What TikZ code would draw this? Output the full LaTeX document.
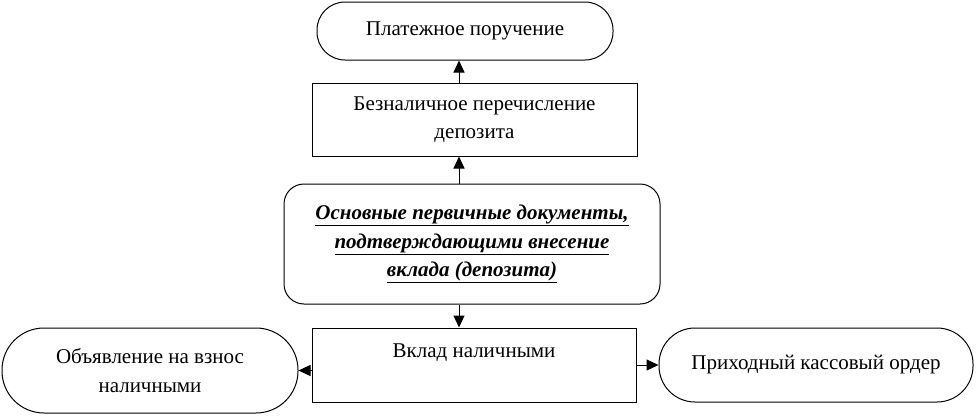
\documentclass[tikz,border=0pt]{standalone}
\usepackage{fontspec}
\setmainfont{Liberation Serif}
\usetikzlibrary{arrows.meta}
\tikzset{
  block/.style={draw,line width=1pt,align=center,inner sep=0pt,
    font=\fontsize{21}{28.5}\selectfont},
  pill/.style={block,rounded corners=#1},
  arr/.style={line width=1pt,-{Triangle[length=12pt,width=11pt]}}
}

\begin{document}
\begin{tikzpicture}[x=1pt,y=-1pt]
\useasboundingbox (0,0) rectangle (976,415);
% top: payment order and transfer
\node[pill=28pt,minimum width=296pt,minimum height=58pt] (plat) at (465,31) {Платежное поручение};
\node[block,minimum width=325pt,minimum height=73pt] (bezn) at (474.5,119.5) {Безналичное перечисление\\депозита};
% central block
\node[pill=20pt,minimum width=376pt,minimum height=120pt] (osn) at (472,244)
  {\bfseries\itshape\underline{Основные первичные документы,}\\
   \bfseries\itshape\underline{подтверждающими внесение}\\
   \bfseries\itshape\underline{вклада (депозита)}};
% bottom row
\node[block,minimum width=324pt,minimum height=74pt] (vklad) at (474,365) {Вклад наличными\\\mbox{}};
\node[pill=42pt,minimum width=296pt,minimum height=85pt] (obyav) at (150,370.5) {Объявление на взнос\\наличными};
\node[pill=36pt,minimum width=314pt,minimum height=74pt] (prikh) at (816,365) {Приходный кассовый ордер};
% arrows
\coordinate (axis) at (459,0);
\draw[arr] (osn.north -| axis) -- (bezn.south -| axis);
\draw[arr] (bezn.north -| axis) -- (plat.south -| axis);
\draw[arr] (osn.south -| axis) -- (vklad.north -| axis);
\draw[arr] (obyav.east -| vklad.west) -- (obyav.east);
\draw[arr] (vklad.east) -- (prikh.west);
\end{tikzpicture}
\end{document}
